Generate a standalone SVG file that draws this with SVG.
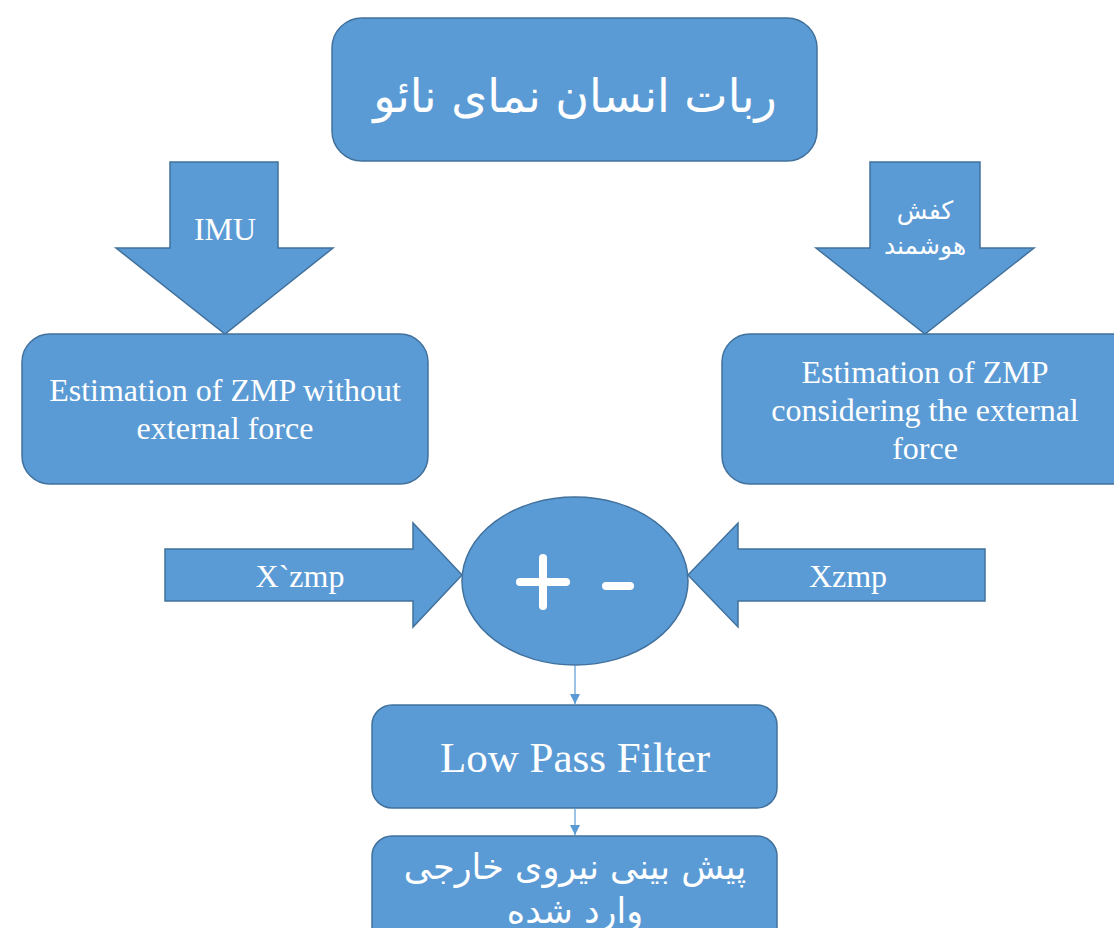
<svg xmlns="http://www.w3.org/2000/svg" width="1114" height="928" viewBox="0 0 1114 928">
<defs>
<style>
.shape{fill:#5B9BD5;stroke:#41719C;stroke-width:1.5}
.en{font-family:"Liberation Serif","Times New Roman",serif;fill:#fff;text-anchor:middle}
.fa{font-family:"DejaVu Sans","Noto Sans",sans-serif;fill:#fff;text-anchor:middle;direction:rtl}
.conn{stroke:#5B9BD5;stroke-width:1.2;fill:none}
</style>
<marker id="ah" viewBox="0 0 10 10" refX="10" refY="5" markerWidth="10" markerHeight="10" markerUnits="userSpaceOnUse" orient="auto">
<path d="M0,0 L10,5 L0,10 z" fill="#5B9BD5"/>
</marker>
</defs>
<rect width="1114" height="928" fill="#fff"/>
<g id="robot">
<rect class="shape" x="332" y="18" width="485" height="143" rx="30"/>
<text class="fa" x="575" y="112" font-size="46">ربات انسان نمای نائو</text>
</g>
<g id="imu">
<path class="shape" d="M170,162 L278,162 L278,248 L333,248 L225,334 L116,248 L170,248 Z"/>
<text class="en" x="225" y="240" font-size="32">IMU</text>
</g>
<g id="shoe">
<path class="shape" d="M870,162 L980,162 L980,248 L1034,248 L925,334 L816,248 L870,248 Z"/>
<text class="fa" x="925" y="219" font-size="25">کفش</text>
<text class="fa" x="925" y="254" font-size="25">هوشمند</text>
</g>
<g id="est-without">
<rect class="shape" x="22" y="334" width="406" height="150" rx="28"/>
<text class="en" x="225" y="401" font-size="32">Estimation of ZMP without</text>
<text class="en" x="225" y="439" font-size="32">external force</text>
</g>
<g id="est-with">
<rect class="shape" x="722" y="334" width="420" height="150" rx="28"/>
<text class="en" x="925" y="383" font-size="32">Estimation of ZMP</text>
<text class="en" x="925" y="421" font-size="32">considering the external</text>
<text class="en" x="925" y="459" font-size="32">force</text>
</g>
<g id="xpzmp">
<path class="shape" d="M165,549 L413,549 L413,523 L462,575 L413,627 L413,601 L165,601 Z"/>
<text class="en" x="300" y="587" font-size="32">X`zmp</text>
</g>
<g id="xzmp">
<path class="shape" d="M985,549 L738,549 L738,523 L688,575 L738,627 L738,601 L985,601 Z"/>
<text class="en" x="848" y="587" font-size="32">Xzmp</text>
</g>
<g id="sum">
<ellipse class="shape" cx="575" cy="581" rx="113" ry="84"/>
<g stroke="#fff" stroke-width="8" stroke-linecap="round">
<line x1="520" y1="582" x2="566" y2="582"/>
<line x1="543" y1="558" x2="543" y2="606"/>
<line x1="606" y1="586" x2="630" y2="586"/>
</g>
</g>
<g id="lpf">
<rect class="shape" x="372" y="705" width="405" height="103" rx="20"/>
<text class="en" x="575" y="772" font-size="43">Low Pass Filter</text>
</g>
<g id="predict">
<rect class="shape" x="372" y="836" width="405" height="120" rx="20"/>
<text class="fa" x="575" y="879" font-size="35">پیش بینی نیروی خارجی</text>
<text class="fa" x="575" y="923" font-size="35">وارد شده</text>
</g>
<g id="connectors">
<line class="conn" x1="575" y1="665" x2="575" y2="704" marker-end="url(#ah)"/>
<line class="conn" x1="575" y1="808" x2="575" y2="835" marker-end="url(#ah)"/>
</g>
</svg>
